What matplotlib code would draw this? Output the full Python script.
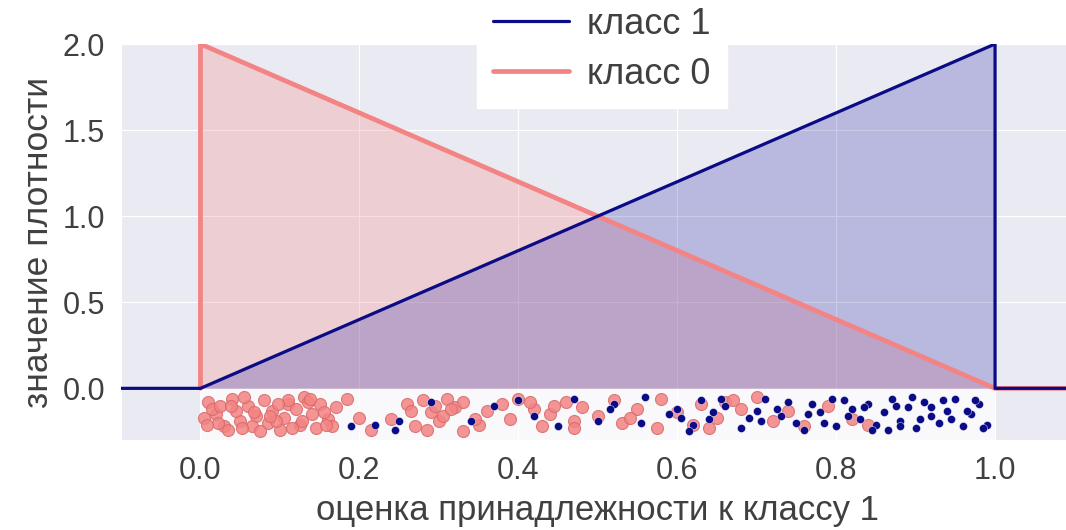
import matplotlib
matplotlib.use("Agg")
import matplotlib.pyplot as plt
import seaborn as sns
from matplotlib.patches import Rectangle

sns.set_style("darkgrid")
plt.rcParams['font.family'] = ['Liberation Sans', 'DejaVu Sans']

# density curves (piecewise linear)
x1 = [-0.1, 0.0, 1.0, 1.0, 1.1]
y1 = [0.0, 0.0, 2.0, 0.0, 0.0]
x0 = [0.0, 0.0, 1.0, 1.1]
y0 = [0.0, 2.0, 0.0, 0.0]
fill_x = [0.0, 1.0]
fill1 = [0.0, 2.0]
fill0 = [2.0, 0.0]

# scatter samples (read approximately)
red_x = [0.01, 0.02, 0.03, 0.015, 0.04, 0.05, 0.035, 0.06, 0.07, 0.065,
         0.08, 0.09, 0.085, 0.10, 0.11, 0.105, 0.12, 0.13, 0.125, 0.14,
         0.15, 0.145, 0.16, 0.17, 0.022, 0.045, 0.075, 0.095, 0.115, 0.135,
         0.155, 0.005, 0.055, 0.165, 0.185, 0.20, 0.215, 0.24, 0.26, 0.27,
         0.28, 0.29, 0.30, 0.31, 0.32, 0.285, 0.305, 0.33, 0.35, 0.36,
         0.38, 0.39, 0.40, 0.42, 0.43, 0.44, 0.46, 0.47, 0.48, 0.50,
         0.52, 0.53, 0.55, 0.58, 0.60, 0.62, 0.63, 0.65, 0.66, 0.68,
         0.70, 0.72, 0.74, 0.76, 0.79, 0.82, 0.84, 0.575, 0.67, 0.025,
         0.11, 0.33, 0.47, 0.64, 0.008, 0.038, 0.068, 0.098, 0.128, 0.158,
         0.052, 0.088, 0.138, 0.265, 0.295, 0.315, 0.345, 0.415, 0.445, 0.54]
red_y = [-0.08, -0.15, -0.22, -0.12, -0.06, -0.19, -0.24, -0.10, -0.16, -0.22,
         -0.07, -0.13, -0.20, -0.24, -0.09, -0.17, -0.12, -0.05, -0.21, -0.15,
         -0.09, -0.23, -0.18, -0.11, -0.20, -0.13, -0.25, -0.19, -0.23, -0.08,
         -0.14, -0.17, -0.05, -0.22, -0.06, -0.17, -0.24, -0.18, -0.09, -0.22,
         -0.07, -0.14, -0.19, -0.06, -0.11, -0.24, -0.16, -0.08, -0.21, -0.13,
         -0.09, -0.18, -0.06, -0.12, -0.22, -0.15, -0.08, -0.19, -0.11, -0.16,
         -0.07, -0.20, -0.12, -0.06, -0.14, -0.21, -0.09, -0.17, -0.08, -0.12,
         -0.05, -0.19, -0.13, -0.22, -0.10, -0.18, -0.21, -0.23, -0.07, -0.10,
         -0.07, -0.25, -0.23, -0.23, -0.21, -0.10, -0.14, -0.09, -0.19, -0.21,
         -0.23, -0.16, -0.06, -0.13, -0.10, -0.12, -0.18, -0.08, -0.10, -0.17]
blue_x = [0.19, 0.22, 0.25, 0.29, 0.34, 0.37, 0.40, 0.45, 0.47, 0.50,
          0.52, 0.56, 0.59, 0.60, 0.62, 0.63, 0.64, 0.66, 0.68, 0.70,
          0.71, 0.73, 0.75, 0.77, 0.78, 0.80, 0.81, 0.82, 0.83, 0.84,
          0.85, 0.86, 0.87, 0.88, 0.89, 0.90, 0.91, 0.92, 0.93, 0.94,
          0.95, 0.96, 0.97, 0.98, 0.99, 0.605, 0.655, 0.725, 0.785, 0.815,
          0.845, 0.875, 0.905, 0.935, 0.965, 0.985, 0.74, 0.69, 0.76, 0.88,
          0.92, 0.245, 0.42, 0.515, 0.615, 0.645, 0.705, 0.795, 0.835, 0.865,
          0.895, 0.945, 0.975, 0.555, 0.765]
blue_y = [-0.22, -0.21, -0.19, -0.08, -0.19, -0.10, -0.07, -0.22, -0.06, -0.19,
          -0.09, -0.05, -0.15, -0.12, -0.21, -0.07, -0.18, -0.10, -0.23, -0.13,
          -0.06, -0.16, -0.20, -0.09, -0.14, -0.22, -0.07, -0.12, -0.18, -0.09,
          -0.21, -0.14, -0.06, -0.19, -0.11, -0.23, -0.08, -0.16, -0.20, -0.13,
          -0.06, -0.22, -0.15, -0.09, -0.21, -0.17, -0.06, -0.12, -0.20, -0.16,
          -0.24, -0.10, -0.18, -0.07, -0.13, -0.23, -0.08, -0.17, -0.24, -0.22,
          -0.11, -0.24, -0.16, -0.12, -0.25, -0.14, -0.19, -0.06, -0.11, -0.24,
          -0.05, -0.18, -0.07, -0.20, -0.15]

xticks = [0.0, 0.2, 0.4, 0.6, 0.8, 1.0]
yticks = [0.0, 0.5, 1.0, 1.5, 2.0]

navy = '#0b0b86'
coral = '#f48383'

fig = plt.figure(figsize=(10.66, 5.30), dpi=100)
ax = fig.add_axes([121/1066, 1 - 440/530, (1074.5 - 121)/1066, (440 - 44)/530])

ax.add_patch(Rectangle((0.0, -0.3), 1.0, 0.3, facecolor='white', alpha=0.75,
                       edgecolor='none', zorder=1.5))

ax.fill_between(fill_x, fill0, color=coral, alpha=0.27, linewidth=0, zorder=2)
ax.fill_between(fill_x, fill1, color='#1a1aa0', alpha=0.23, linewidth=0, zorder=2)

ax.plot(x0, y0, color=coral, lw=3.4, label='класс 0', zorder=3)
ax.plot(x1, y1, color=navy, lw=2.3, label='класс 1', zorder=4)

ax.scatter(red_x, red_y, s=75, facecolor=coral, edgecolor='#d86a6a',
           linewidth=0.8, alpha=0.85, zorder=5)
ax.scatter(blue_x, blue_y, s=34, facecolor=navy, edgecolor='white',
           linewidth=0.3, zorder=6)

ax.set_xlim(-0.1, 1.1)
ax.set_ylim(-0.3, 2.0)
ax.set_xticks(xticks)
ax.set_yticks(yticks)
ax.tick_params(labelsize=22, colors='.25', pad=8)
ax.set_xlabel('оценка принадлежности к классу 1', fontsize=25, color='.25',
              labelpad=6)
ax.set_ylabel('значение плотности', fontsize=25.5, color='.25', labelpad=5)

handles, labels = ax.get_legend_handles_labels()
leg = fig.legend([handles[1], handles[0]], [labels[1], labels[0]],
                 loc='lower left', bbox_to_anchor=(477/1066, 1 - 108/530),
                 bbox_transform=fig.transFigure, fontsize=26, frameon=True,
                 facecolor='white', edgecolor='white', framealpha=1,
                 fancybox=False, labelspacing=0.42, handlelength=2.1,
                 handletextpad=0.5, borderpad=0.45, borderaxespad=0)
for t in leg.get_texts():
    t.set_color('.25')

fig.savefig('out.png', dpi=100)
